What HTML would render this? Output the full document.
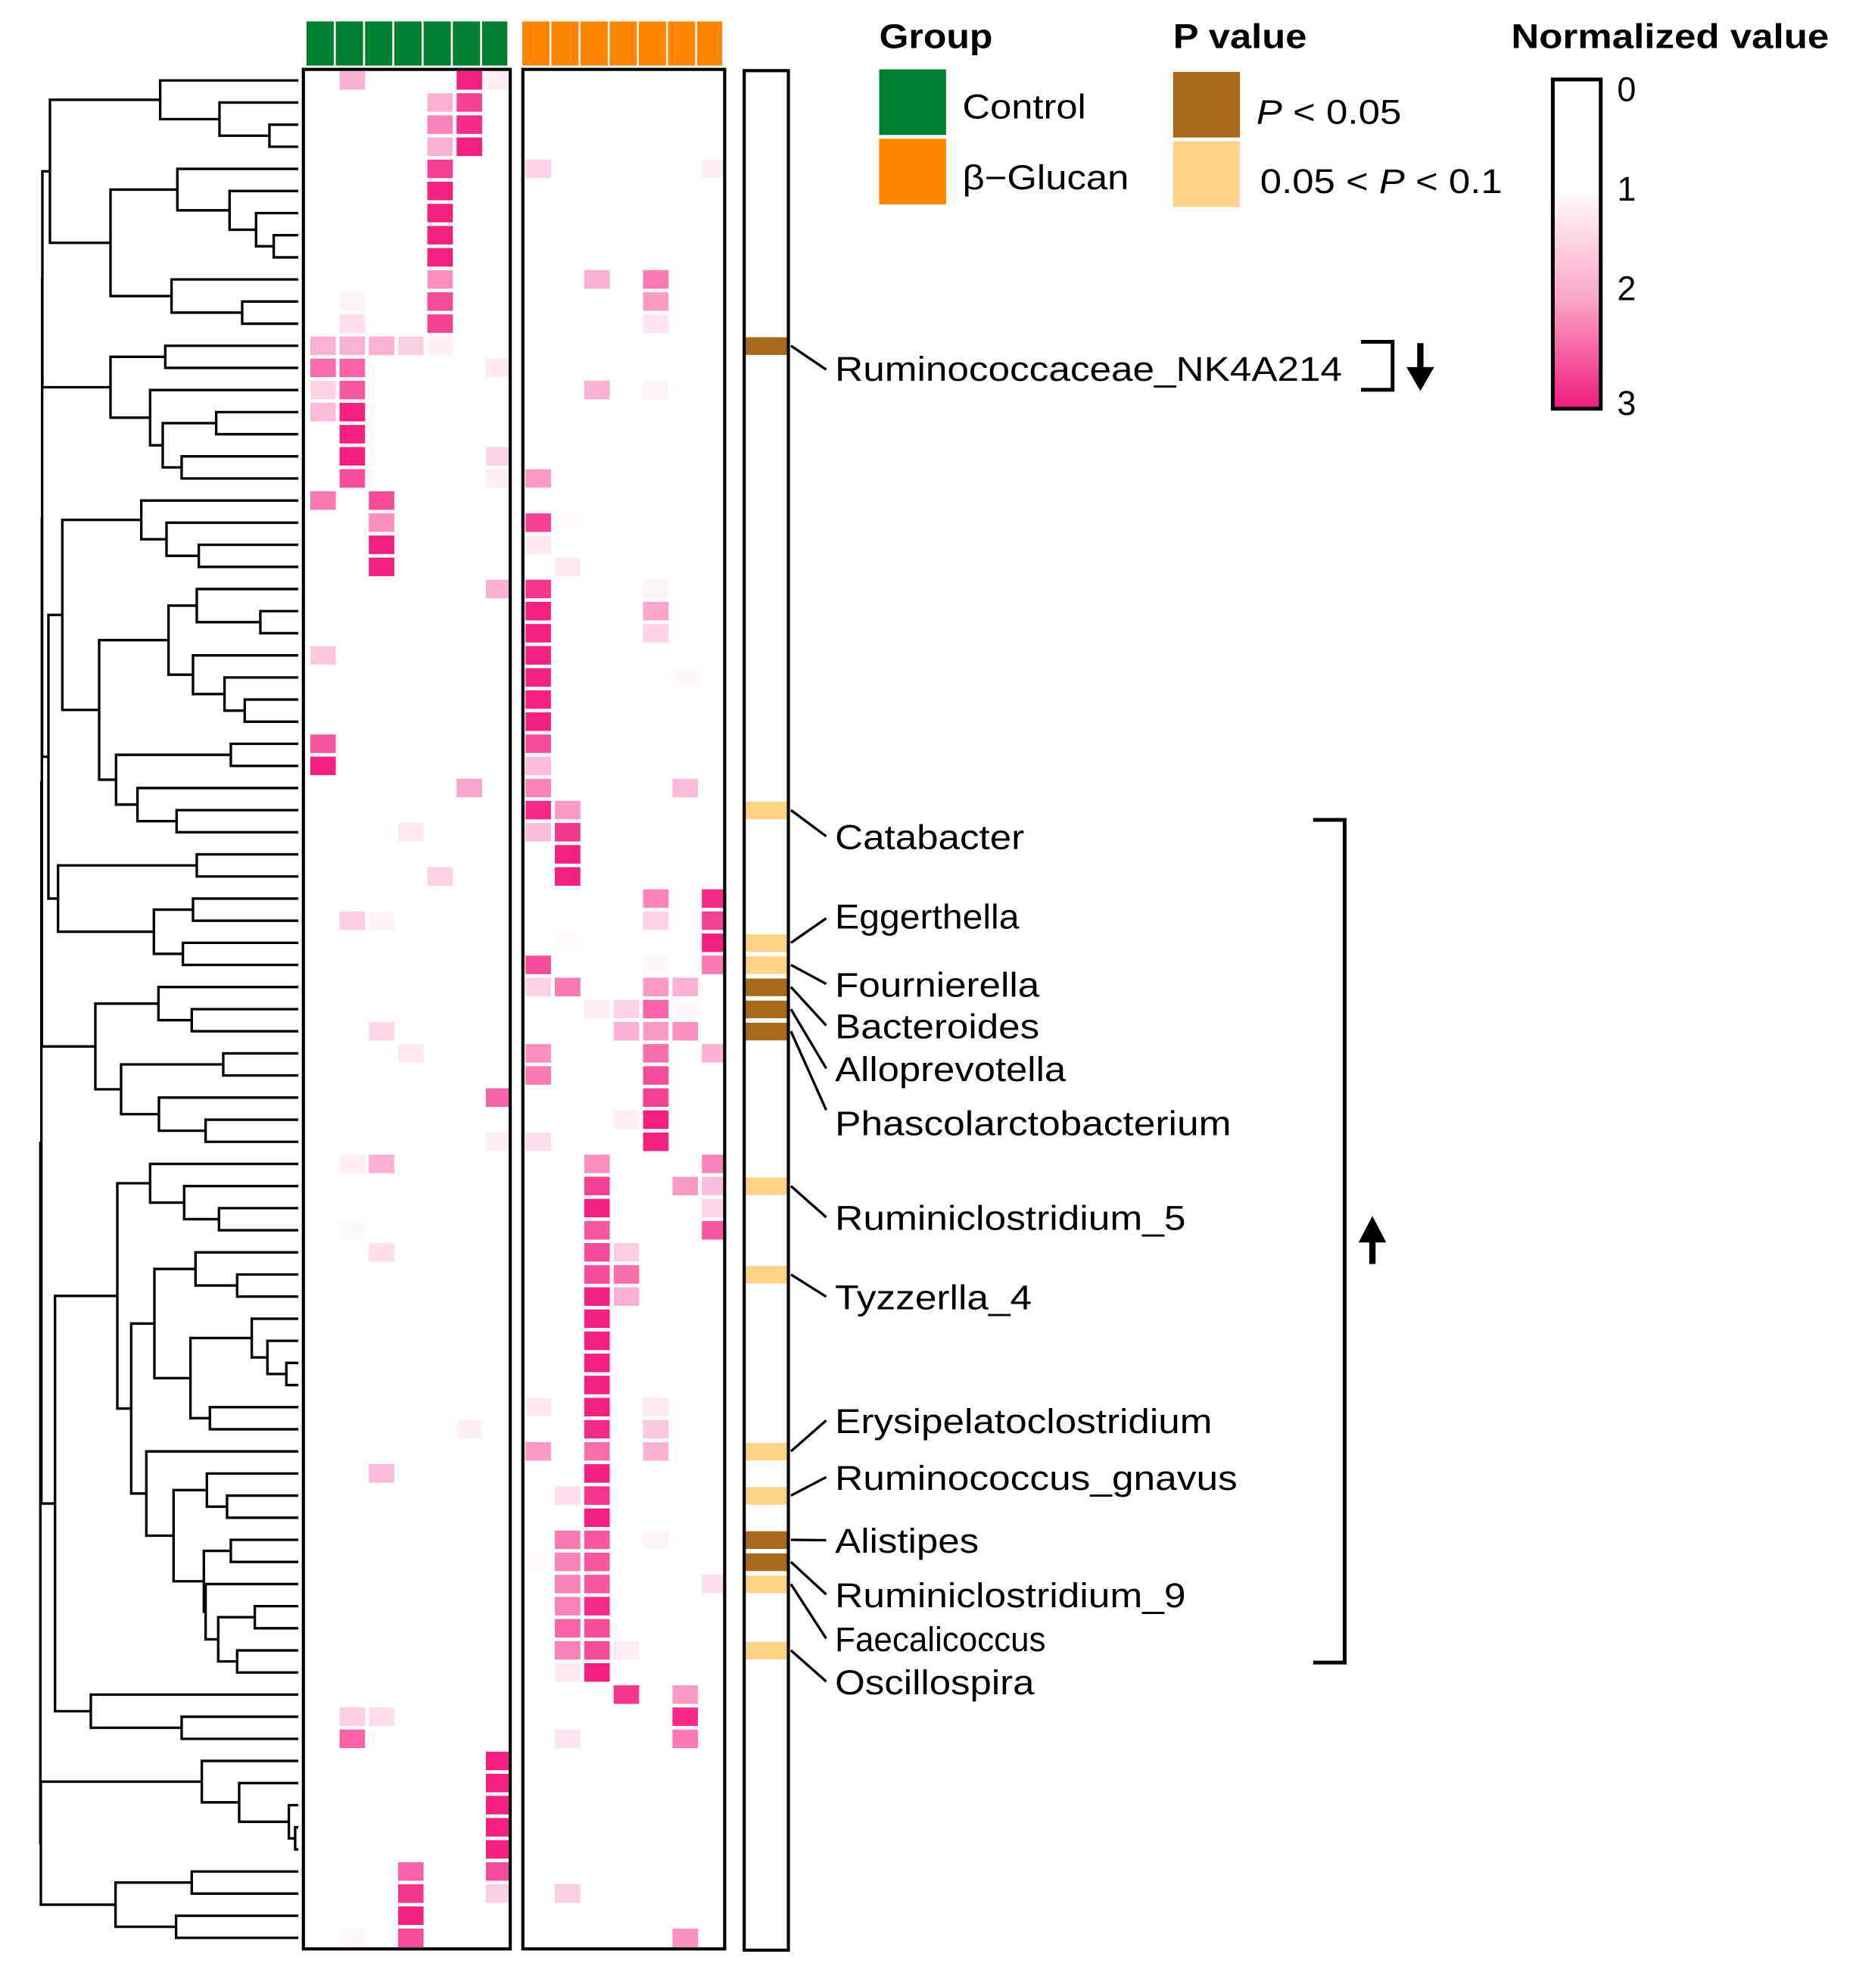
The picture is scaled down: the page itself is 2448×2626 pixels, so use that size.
<!DOCTYPE html>
<html><head><meta charset="utf-8"><style>
html,body{margin:0;padding:0;background:#fff;}
svg{display:block;}
text{font-family:"Liberation Sans",Arial,sans-serif;fill:#000;}
</style></head><body>
<svg id="s" xmlns="http://www.w3.org/2000/svg" width="2448" height="2626" viewBox="0 0 1469 1576" preserveAspectRatio="none">
<defs><linearGradient id="cb" x1="0" y1="0" x2="0" y2="1">
<stop offset="0" stop-color="#ffffff"/><stop offset="0.33" stop-color="#ffffff"/><stop offset="0.42" stop-color="#fde6ef"/><stop offset="0.66" stop-color="#fba8c8"/><stop offset="1" stop-color="#f01a7c"/></linearGradient></defs>
<g id="dend" stroke="#000" stroke-width="2" fill="none"></g>
<g id="cells"></g>
<g id="hdr"></g>
<rect x="240.5" y="55" width="164" height="1490" fill="none" stroke="#000" stroke-width="2.5"/>
<rect x="414.5" y="55" width="160" height="1490" fill="none" stroke="#000" stroke-width="2.5"/>
<g id="pbar"></g>
<rect x="590" y="56" width="35" height="1490" fill="none" stroke="#000" stroke-width="2.5"/>
<g id="lines" stroke="#000" stroke-width="2" fill="none"></g>
<g font-size="27">
<text x="662" y="302" textLength="402" lengthAdjust="spacingAndGlyphs">Ruminococcaceae_NK4A214</text>
<text x="662" y="673" textLength="150" lengthAdjust="spacingAndGlyphs">Catabacter</text>
<text x="662" y="736" textLength="146" lengthAdjust="spacingAndGlyphs">Eggerthella</text>
<text x="662" y="790" textLength="162" lengthAdjust="spacingAndGlyphs">Fournierella</text>
<text x="662" y="823" textLength="162" lengthAdjust="spacingAndGlyphs">Bacteroides</text>
<text x="662" y="857" textLength="183" lengthAdjust="spacingAndGlyphs">Alloprevotella</text>
<text x="662" y="900" textLength="314" lengthAdjust="spacingAndGlyphs">Phascolarctobacterium</text>
<text x="662" y="975" textLength="278" lengthAdjust="spacingAndGlyphs">Ruminiclostridium_5</text>
<text x="662" y="1038" textLength="156" lengthAdjust="spacingAndGlyphs">Tyzzerlla_4</text>
<text x="662" y="1136" textLength="299" lengthAdjust="spacingAndGlyphs">Erysipelatoclostridium</text>
<text x="662" y="1181" textLength="319" lengthAdjust="spacingAndGlyphs">Ruminococcus_gnavus</text>
<text x="662" y="1231" textLength="114" lengthAdjust="spacingAndGlyphs">Alistipes</text>
<text x="662" y="1274" textLength="278" lengthAdjust="spacingAndGlyphs">Ruminiclostridium_9</text>
<text x="662" y="1309" textLength="167" lengthAdjust="spacingAndGlyphs" font-size="27">Faecalicoccus</text>
<text x="662" y="1343" textLength="158" lengthAdjust="spacingAndGlyphs">Oscillospira</text>
<text x="697" y="38" font-weight="bold" textLength="90" lengthAdjust="spacingAndGlyphs">Group</text>
<text x="930" y="38" font-weight="bold" textLength="106" lengthAdjust="spacingAndGlyphs">P value</text>
<text x="1198" y="38" font-weight="bold" textLength="252" lengthAdjust="spacingAndGlyphs">Normalized value</text>
<text x="763" y="94" textLength="98" lengthAdjust="spacingAndGlyphs">Control</text>
<text x="763" y="150" textLength="132" lengthAdjust="spacingAndGlyphs">β−Glucan</text>
<text x="996" y="98" textLength="115" lengthAdjust="spacingAndGlyphs"><tspan font-style="italic">P</tspan> &lt; 0.05</text>
<text x="999" y="153" textLength="192" lengthAdjust="spacingAndGlyphs">0.05 &lt; <tspan font-style="italic">P</tspan> &lt; 0.1</text>
<text x="1282" y="80">0</text>
<text x="1282" y="159">1</text>
<text x="1282" y="238">2</text>
<text x="1282" y="329">3</text>
</g>
<rect x="697" y="55" width="53" height="52" fill="#007F33"/>
<rect x="697" y="110" width="53" height="52" fill="#FF8500"/>
<rect x="930" y="57" width="53" height="52" fill="#A86A1A"/>
<rect x="930" y="112" width="53" height="52" fill="#FFD386"/>
<rect x="1231" y="63" width="38" height="261" fill="url(#cb)" stroke="#000" stroke-width="3"/>
<g stroke="#000" stroke-width="3" fill="none">
<polyline points="1079,271 1104,271 1104,309 1079,309"/>
<line x1="1126" y1="272" x2="1126" y2="296" stroke-width="5"/>
<polyline points="1041,650 1066,650 1066,1318 1041,1318"/>
<line x1="1088" y1="980" x2="1088" y2="1002" stroke-width="5"/>
</g>
<polygon points="1115,291 1137,291 1126,310" fill="#000"/>
<polygon points="1077,985 1099,985 1088,964" fill="#000"/>
</svg>
<script>
(function(){
var NS="http://www.w3.org/2000/svg";
function el(p,t,a){var e=document.createElementNS(NS,t);for(var k in a)e.setAttribute(k,a[k]);p.appendChild(e);return e;}
var TOP=55,P=1490/85;
function cy(i){return TOP+P*(i+0.5);}
var D={
0:[[0,1,.35],[0,5,1],[0,6,.08]],1:[[0,4,.35],[0,5,.85]],2:[[0,4,.55],[0,5,.95]],3:[[0,4,.35],[0,5,1]],
4:[[0,4,.85],[1,0,.2],[1,6,.08]],5:[[0,4,1]],6:[[0,4,1]],7:[[0,4,1]],8:[[0,4,1]],
9:[[0,4,.5],[1,2,.35],[1,4,.6]],10:[[0,1,.06],[0,4,.8],[1,4,.45]],11:[[0,1,.15],[0,4,.85],[1,4,.12]],
12:[[0,0,.35],[0,1,.35],[0,2,.35],[0,3,.22],[0,4,.07]],13:[[0,0,.65],[0,1,.7],[0,6,.1]],
14:[[0,0,.2],[0,1,.75],[1,2,.35],[1,4,.05]],15:[[0,0,.3],[0,1,1]],16:[[0,1,1]],17:[[0,1,1],[0,6,.2]],
18:[[0,1,.8],[0,6,.08],[1,0,.45]],19:[[0,0,.6],[0,2,.8]],20:[[0,2,.5],[1,0,.85],[1,1,.02]],
21:[[0,2,1],[1,0,.1]],22:[[0,2,1],[1,1,.1]],23:[[0,6,.35],[1,0,.9],[1,4,.06]],24:[[1,0,1],[1,4,.4]],
25:[[1,0,1],[1,4,.2]],26:[[0,0,.25],[1,0,1]],27:[[1,0,1],[1,5,.03]],28:[[1,0,1]],29:[[1,0,1]],
30:[[0,0,.75],[1,0,.8]],31:[[0,0,1],[1,0,.3]],32:[[0,5,.4],[1,0,.55],[1,5,.3]],33:[[1,0,.95],[1,1,.45]],
34:[[0,3,.1],[1,0,.3],[1,1,.9]],35:[[1,1,1]],36:[[0,4,.2],[1,1,1]],37:[[1,4,.55],[1,6,.95]],
38:[[0,1,.22],[0,2,.06],[1,4,.2],[1,6,.85]],39:[[1,1,.02],[1,6,1]],40:[[1,0,.8],[1,4,.03],[1,6,.6]],
41:[[1,0,.2],[1,1,.6],[1,4,.45],[1,5,.35]],42:[[1,2,.08],[1,3,.2],[1,4,.7],[1,5,.03]],
43:[[0,2,.18],[1,3,.35],[1,4,.45],[1,5,.5]],44:[[0,3,.1],[1,0,.5],[1,4,.65],[1,6,.35]],
45:[[1,0,.6],[1,4,.8]],46:[[0,6,.7],[1,4,.85]],47:[[1,3,.08],[1,4,1]],48:[[0,6,.08],[1,0,.15],[1,4,1]],
49:[[0,1,.07],[0,2,.35],[1,2,.5],[1,6,.55]],50:[[1,2,.85],[1,5,.45],[1,6,.3]],51:[[1,2,1],[1,6,.18]],
52:[[0,1,.03],[1,2,.75],[1,6,.75]],53:[[0,2,.15],[1,2,.8],[1,3,.22]],54:[[1,2,.8],[1,3,.65]],
55:[[1,2,1],[1,3,.35]],56:[[1,2,1]],57:[[1,2,1]],58:[[1,2,1]],59:[[1,2,1]],
60:[[1,0,.1],[1,2,1],[1,4,.1]],61:[[0,5,.07],[1,2,.95],[1,4,.25]],62:[[1,0,.45],[1,2,.65],[1,4,.35]],
63:[[0,2,.3],[1,2,1]],64:[[1,1,.15],[1,2,.9]],65:[[1,2,1]],66:[[1,1,.6],[1,2,.75],[1,4,.05]],
67:[[1,0,.02],[1,1,.55],[1,2,.75]],68:[[1,1,.55],[1,2,.75],[1,6,.15]],69:[[1,1,.55],[1,2,.95]],
70:[[1,1,.7],[1,2,.8]],71:[[1,1,.55],[1,2,.8],[1,3,.08]],72:[[1,1,.1],[1,2,1]],73:[[1,3,.9],[1,5,.45]],
74:[[0,1,.22],[0,2,.15],[1,5,.95]],75:[[0,1,.7],[1,1,.12],[1,5,.6]],76:[[0,6,1]],77:[[0,6,1]],
78:[[0,6,1]],79:[[0,6,1]],80:[[0,6,1]],81:[[0,3,.7],[0,6,.8]],82:[[0,3,.9],[0,6,.22],[1,1,.22]],
83:[[0,3,1]],84:[[0,3,.8],[0,1,.03],[1,5,.5]]};
function col(a){var r=Math.round(255-a*(255-243)),g=Math.round(255-a*(255-32)),b=Math.round(255-a*(255-128));return "rgb("+r+","+g+","+b+")";}
var cg=document.getElementById("cells");
for(var k in D){var i=+k;D[k].forEach(function(c){
 var x=c[0]==0?246+23.2*c[1]:416.6+23.3*c[1];
 var w=20.2; if(c[0]==1&&c[1]==6)w=18.5; if(c[0]==0&&c[1]==6)w=19;
 el(cg,"rect",{x:x,y:TOP+P*i+1.4,width:w,height:14.7,fill:col(c[2])});
});}
var hg=document.getElementById("hdr");
for(var j=0;j<7;j++){
 el(hg,"rect",{x:243+23.2*j,y:17,width:j==6?20:21.6,height:35,fill:"#007F33"});
 el(hg,"rect",{x:414+23.1*j,y:17,width:j==6?20:21.6,height:35,fill:"#FF8500"});
}
var pg=document.getElementById("pbar");
var PB={12:"#A86A1A",41:"#A86A1A",42:"#A86A1A",43:"#A86A1A",66:"#A86A1A",67:"#A86A1A",
33:"#FFD386",39:"#FFD386",40:"#FFD386",50:"#FFD386",54:"#FFD386",62:"#FFD386",64:"#FFD386",68:"#FFD386",71:"#FFD386"};
for(var k in PB){el(pg,"rect",{x:591,y:TOP+P*(+k)+2,width:33,height:14,fill:PB[k]});}
var lg=document.getElementById("lines");
[[12,293],[33,663],[39,728],[40,780],[41,813],[42,847],[43,880],[50,965],[54,1028],[62,1126],[64,1171],[66,1221],[67,1264],[68,1299],[71,1333]].forEach(function(l){
 el(lg,"line",{x1:627,y1:cy(l[0]),x2:655,y2:l[1]});
});
function X(z){return 24+z/5;}
var LEAF=236.5;
var A=[515,0,[750,1,[948,2,3]]],B=[583,4,[790,5,[895,6,[965,7,8]]]],C=[560,9,[840,10,11]];
var ABC=[78,A,[318,B,C]];
var Dd=[318,[535,12,13],[475,14,[525,[737,15,16],[600,17,18]]]];
var T1=[48,ABC,Dd];
var E=[440,19,[540,20,[668,21,22]]];
var F=[548,[660,23,[912,24,25]],[645,26,[770,27,[850,28,29]]]];
var G=[340,[795,30,31],[425,32,[580,33,34]]];
var EFG=[127,E,[273,F,G]];
var H=[110,[660,35,36],[490,[645,37,38],[605,39,40]]];
var T2=[72,EFG,H];
var I=[258,[508,41,[640,42,43]],[360,[765,44,45],[510,46,[695,47,48]]]];
var J=[345,[475,49,[610,50,[748,51,52]]],[400,[492,[655,53,[820,54,55]],[635,[878,56,[940,57,[1015,58,59]]],[712,60,61]]],[460,62,[568,[700,63,[780,64,65]],[688,[795,66,67],[695,68,[745,[890,69,70],[820,71,72]]]]]]]];
var K=[98,J,[240,73,[600,74,75]]];
var L=[680,76,[828,77,[1025,78,[1050,79,80]]]];
var M=[338,[640,81,82],[578,83,84]];
var ROOT=[40,[44,[46,[47,T1,T2],I],K],[42,L,M]];
var dg=document.getElementById("dend");
function draw(n){
 if(typeof n==="number")return {x:LEAF,y:cy(n)};
 var x=X(n[0]),a=draw(n[1]),b=draw(n[2]);
 el(dg,"path",{d:"M"+a.x+","+a.y+"H"+x+"V"+b.y+"H"+b.x});
 return {x:x,y:(a.y+b.y)/2};
}
draw(ROOT);
})();
</script>
</body></html>
